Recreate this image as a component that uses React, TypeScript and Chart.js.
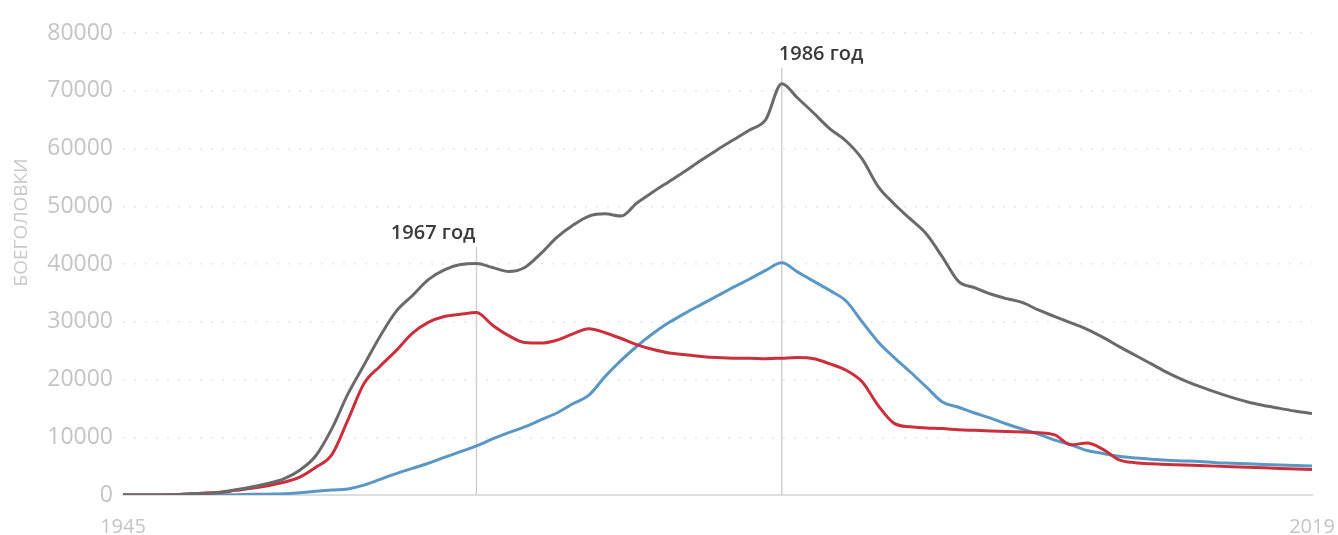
import React, { useEffect, useRef } from "react";
import { Chart, registerables } from "chart.js";

Chart.register(...registerables);

const years = [
  1945, 1946, 1947, 1948, 1949, 1950, 1951, 1952, 1953, 1954,
  1955, 1956, 1957, 1958, 1959, 1960, 1961, 1962, 1963, 1964,
  1965, 1966, 1967, 1968, 1969, 1970, 1971, 1972, 1973, 1974,
  1975, 1976, 1977, 1978, 1979, 1980, 1981, 1982, 1983, 1984,
  1985, 1986, 1987, 1988, 1989, 1990, 1991, 1992, 1993, 1994,
  1995, 1996, 1997, 1998, 1999, 2000, 2001, 2002, 2003, 2004,
  2005, 2006, 2007, 2008, 2009, 2010, 2011, 2012, 2013, 2014,
  2015, 2016, 2017, 2018, 2019,
];

const totalWarheads = [
  2, 9, 13, 50, 170, 300, 480, 900, 1400, 2000,
  2800, 4300, 6800, 11500, 17500, 22500, 27500, 31800, 34500, 37300,
  39000, 39900, 40100, 39400, 38700, 39400, 41800, 44600, 46700, 48300,
  48700, 48300, 50600, 52500, 54300, 56100, 58000, 59800, 61500, 63200,
  65000, 71200, 68700, 66100, 63400, 61300, 58200, 53400, 50400, 47800,
  45200, 41200, 37000, 35900, 34800, 34000, 33300, 32000, 30900, 29800,
  28700, 27300, 25700, 24200, 22700, 21200, 19900, 18800, 17800, 16900,
  16100, 15500, 15000, 14500, 14100,
];

const usaWarheads = [
  2, 9, 13, 50, 170, 300, 440, 800, 1150, 1600,
  2200, 3100, 4800, 7000, 13000, 19300, 22300, 25000, 28000, 29900,
  30900, 31300, 31600, 29400, 27600, 26400, 26300, 26800, 27900, 28800,
  28100, 27100, 26000, 25200, 24600, 24300, 24000, 23800, 23700, 23700,
  23600, 23700, 23800, 23600, 22700, 21600, 19600, 15500, 12400, 11800,
  11600, 11500, 11300, 11200, 11100, 11000, 10900, 10800, 10400, 8700,
  9000, 7900, 6100, 5600, 5400, 5300, 5200, 5100, 5000, 4900,
  4800, 4700, 4600, 4500, 4400,
];

const ussrWarheads = [
  0, 0, 0, 0, 1, 5, 25, 50, 120, 150,
  200, 400, 650, 870, 1050, 1700, 2700, 3700, 4600, 5500,
  6500, 7500, 8500, 9700, 10800, 11800, 13000, 14200, 15800, 17300,
  20500, 23300, 25800, 28000, 29900, 31500, 33000, 34500, 36000, 37400,
  38900, 40200, 38600, 37000, 35400, 33600, 30000, 26500, 23800, 21300,
  18700, 16100, 15200, 14200, 13300, 12300, 11400, 10500, 9500, 8700,
  7700, 7200, 6700, 6400, 6200, 6000, 5900, 5800, 5600, 5500,
  5400, 5300, 5200, 5100, 5000,
];

const xTickValues = [1945, 2019];
const yMax = 80000;
const yStep = 10000;
const yAxisTitle = "БОЕГОЛОВКИ";

const markerYears = [1967, 1986];
const markerLabels = ["1967 год", "1986 год"];
const markerTopValues = [43000, 74000];
const markerSides = ["left", "right"];

export default function App() {
  const canvasRef = useRef<HTMLCanvasElement | null>(null);

  useEffect(() => {
    document.body.style.margin = "0";
    const canvas = canvasRef.current;
    if (!canvas) return;

    const toPoints = (arr: number[]) => years.map((x, i) => ({ x, y: arr[i] }));

    const markerPlugin = {
      id: "markers",
      beforeDatasetsDraw(chart: any) {
        const { ctx, chartArea, scales } = chart;
        const xs = scales.x;
        const ys = scales.y;
        ctx.save();
        markerYears.forEach((yr, i) => {
          const px = xs.getPixelForValue(yr);
          const top = ys.getPixelForValue(markerTopValues[i]);
          ctx.strokeStyle = "#d2d2d2";
          ctx.lineWidth = 1.5;
          ctx.beginPath();
          ctx.moveTo(px, top);
          ctx.lineTo(px, chartArea.bottom);
          ctx.stroke();
          ctx.fillStyle = "#3a3a3a";
          ctx.font = '600 20px "Open Sans"';
          ctx.textBaseline = "alphabetic";
          const left = markerSides[i] === "left";
          ctx.textAlign = left ? "right" : "left";
          ctx.fillText(markerLabels[i], left ? px - 1 : px - 3, top - 8);
        });
        ctx.translate(22, chartArea.top + (chartArea.bottom - chartArea.top) * 0.41);
        ctx.rotate(-Math.PI / 2);
        ctx.textAlign = "center";
        ctx.textBaseline = "middle";
        ctx.fillStyle = "#c9c9c9";
        ctx.font = '19px "Open Sans"';
        ctx.fillText(yAxisTitle, 0, 0);
        ctx.restore();
      },
    };

    const chart = new Chart(canvas, {
      type: "line",
      data: {
        datasets: [
          {
            label: "Всего",
            data: toPoints(totalWarheads),
            borderColor: "#6a6a6a",
            borderWidth: 3,
            pointRadius: 0,
            cubicInterpolationMode: "monotone",
            order: 1,
          },
          {
            label: "США",
            data: toPoints(usaWarheads),
            borderColor: "#c9303c",
            borderWidth: 3,
            pointRadius: 0,
            cubicInterpolationMode: "monotone",
            order: 2,
          },
          {
            label: "СССР / Россия",
            data: toPoints(ussrWarheads),
            borderColor: "#5a97c5",
            borderWidth: 3,
            pointRadius: 0,
            cubicInterpolationMode: "monotone",
            order: 3,
          },
        ],
      },
      options: {
        responsive: false,
        animation: false,
        layout: { padding: { top: 33, right: 26, left: 0, bottom: 0 } },
        plugins: {
          legend: { display: false },
          tooltip: { enabled: false },
        },
        scales: {
          x: {
            type: "linear",
            min: 1945,
            max: 2019,
            afterBuildTicks: (s: any) => {
              s.ticks = xTickValues.map((v) => ({ value: v }));
            },
            afterFit: (s: any) => {
              s.height = 40;
              s.paddingLeft = 0;
              s.paddingRight = 0;
            },
            grid: { display: false, drawTicks: false },
            border: { display: true, color: "#dedede", width: 2 },
            ticks: {
              padding: 20,
              color: "#c4c4c4",
              font: { family: "Open Sans", size: 20 },
              maxRotation: 0,
              autoSkip: false,
              callback: (v: any) => String(v),
            },
          },
          y: {
            min: 0,
            max: yMax,
            afterFit: (s: any) => {
              s.width = 123;
            },
            ticks: {
              stepSize: yStep,
              padding: 10,
              color: "#c4c4c4",
              font: { family: "Open Sans", size: 23 },
              callback: (v: any) => String(v),
            },
            grid: {
              drawTicks: false,
              lineWidth: 1.5,
              color: (c: any) => (c.tick && c.tick.value === 0 ? "rgba(0,0,0,0)" : "#e6e6e6"),
            },
            border: { display: false, dash: [2, 9] },
          },
        },
      },
      plugins: [markerPlugin],
    } as any);

    return () => chart.destroy();
  }, []);

  return (
    <div style={{ position: "fixed", left: 0, top: 0, width: 1338, height: 535, background: "#fff" }}>
      <canvas ref={canvasRef} width={1338} height={535} style={{ display: "block" }} />
    </div>
  );
}
